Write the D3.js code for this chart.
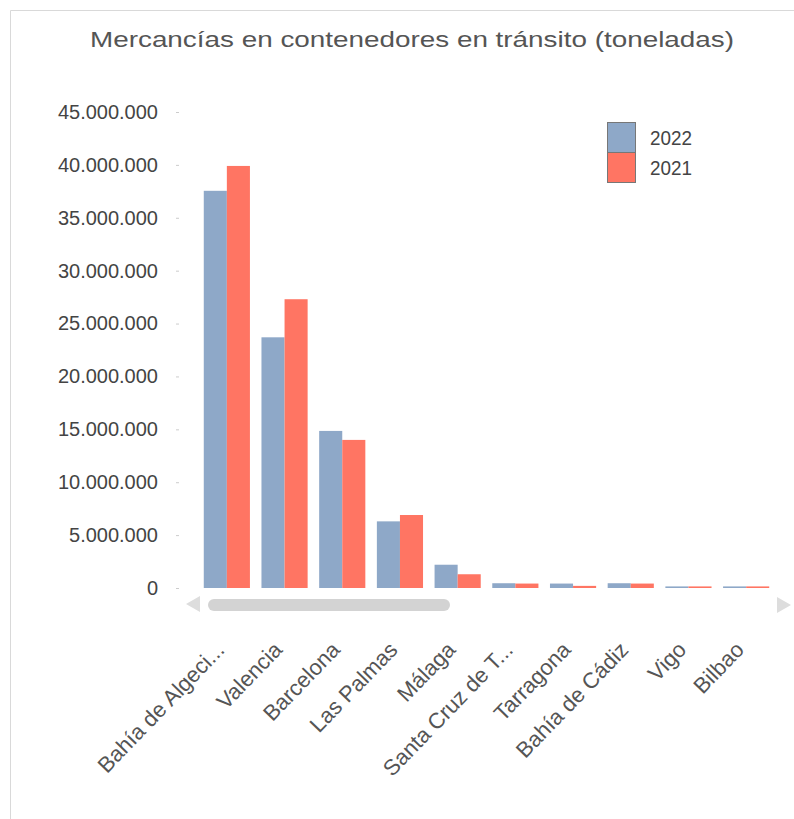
<html>
<head>
<script src="https://d3js.org/d3.v7.min.js"></script>
<style>
  body { margin: 0; background: #fff; }
  text { font-family: "Liberation Sans", Arial, sans-serif; }
</style>
</head>
<body>
<script>
// data (toneladas)
const ports = ['Bahía de Algeci...', 'Valencia', 'Barcelona', 'Las Palmas', 'Málaga',
               'Santa Cruz de T...', 'Tarragona', 'Bahía de Cádiz', 'Vigo', 'Bilbao'];
const years = ['2022', '2021'];
const values2022 = [37550000, 23700000, 14850000, 6300000, 2200000, 450000, 420000, 450000, 150000, 150000];
const values2021 = [39900000, 27300000, 14000000, 6900000, 1300000, 420000, 200000, 420000, 150000, 150000];
const yTicks = [0, 5000000, 10000000, 15000000, 20000000, 25000000, 30000000, 35000000, 40000000, 45000000];
const colors = {'2022': '#8EA8C8', '2021': '#FF7563'};

const width = 794, height = 819;
const svg = d3.select('body').append('svg')
  .attr('width', width)
  .attr('height', height);

// frame
svg.append('path')
  .attr('d', 'M10.5,819 V10.5 H794')
  .attr('fill', 'none')
  .attr('stroke', '#d9d9d9')
  .attr('stroke-width', 1);

// title
svg.append('text')
  .attr('x', 412).attr('y', 47)
  .attr('text-anchor', 'middle')
  .attr('font-size', 22)
  .attr('fill', '#555')
  .attr('textLength', 644)
  .attr('lengthAdjust', 'spacingAndGlyphs')
  .text('Mercancías en contenedores en tránsito (toneladas)');

const x0 = d3.scaleBand()
  .domain(ports)
  .range([198, 775])
  .paddingInner(0.2)
  .paddingOuter(0.1);

const x1 = d3.scaleBand()
  .domain(years)
  .range([0, x0.bandwidth()]);

const y = d3.scaleLinear()
  .domain([0, 45000000])
  .range([588, 112]);

const fmt = d => d3.format(',')(d).replace(/,/g, '.');

// y axis
const yAxis = d3.axisLeft(y)
  .tickValues(yTicks)
  .tickFormat(fmt)
  .tickSize(3)
  .tickPadding(18);

const gy = svg.append('g')
  .attr('transform', 'translate(179,0)')
  .call(yAxis);
gy.select('.domain').remove();
gy.selectAll('.tick line').attr('stroke', '#ccc');
gy.selectAll('.tick text')
  .attr('font-size', 20)
  .attr('fill', '#444');

// bars
const series = {'2022': values2022, '2021': values2021};
const groups = svg.append('g').selectAll('g')
  .data(ports)
  .join('g')
  .attr('transform', d => `translate(${x0(d)},0)`);

groups.selectAll('rect')
  .data((d, i) => years.map(yr => ({yr, v: series[yr][i]})))
  .join('rect')
  .attr('x', d => x1(d.yr))
  .attr('y', d => y(d.v))
  .attr('width', x1.bandwidth())
  .attr('height', d => Math.max(1.5, y(0) - y(d.v)))
  .attr('fill', d => colors[d.yr]);

// x labels
svg.append('g').selectAll('text')
  .data(ports)
  .join('text')
  .attr('text-anchor', 'end')
  .attr('font-size', 22)
  .attr('fill', '#555')
  .attr('transform', d => `translate(${x0(d) + x0.bandwidth() / 2 - 1},${651}) rotate(-46)`)
  .text(d => d);

// scrollbar
svg.append('path')
  .attr('d', 'M186,604 L200,596 L200,612 Z')
  .attr('fill', '#ddd');
svg.append('rect')
  .attr('x', 208).attr('y', 599)
  .attr('width', 242).attr('height', 12)
  .attr('rx', 6)
  .attr('fill', '#d3d3d3');
svg.append('path')
  .attr('d', 'M791,605 L777,597 L777,613 Z')
  .attr('fill', '#ddd');

// legend
const legend = svg.append('g').selectAll('g')
  .data(years)
  .join('g')
  .attr('transform', (d, i) => `translate(607,${122 + i * 30})`);
legend.append('rect')
  .attr('x', 0.5).attr('y', 0.5)
  .attr('width', 28).attr('height', 30)
  .attr('fill', d => colors[d])
  .attr('stroke', '#777');
legend.append('text')
  .attr('x', 43).attr('y', 23)
  .attr('font-size', 20)
  .attr('fill', '#444')
  .attr('textLength', 42)
  .attr('lengthAdjust', 'spacingAndGlyphs')
  .text(d => d);
</script>
</body>
</html>
